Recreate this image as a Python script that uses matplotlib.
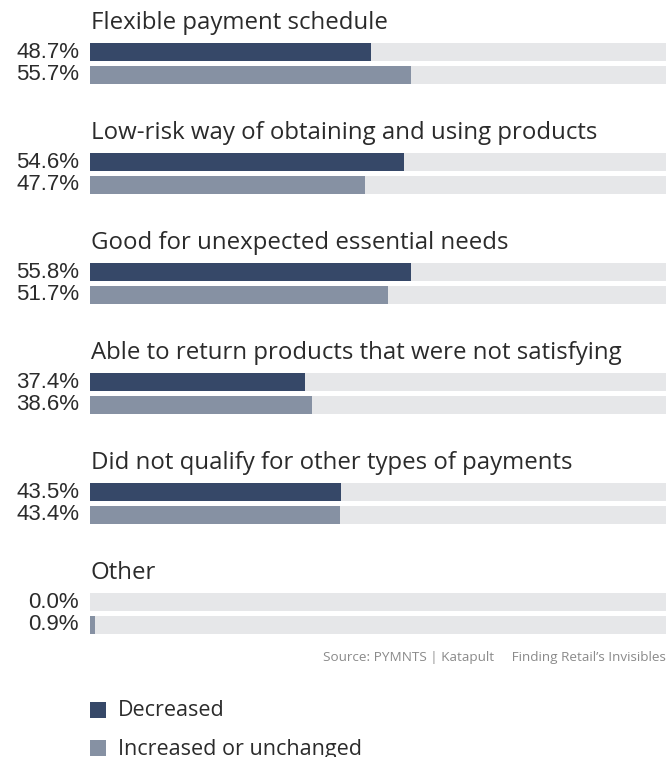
import matplotlib.pyplot as plt

# survey answers, share of respondents (%)
reasons = [
    "Flexible payment schedule",
    "Low-risk way of obtaining and using products",
    "Good for unexpected essential needs",
    "Able to return products that were not satisfying",
    "Did not qualify for other types of payments",
    "Other",
]
decreased = [48.7, 54.6, 55.8, 37.4, 43.5, 0.0]
increased = [55.7, 47.7, 51.7, 38.6, 43.4, 0.9]
series_names = ["Decreased", "Increased or unchanged"]

DARK = "#364868"
LIGHT = "#8691a3"
TRACK = "#e6e7e9"
TEXT = "#2b2b2b"
TITLE_FONT = ["Open Sans", "DejaVu Sans"]
NUM_FONT = ["Liberation Sans", "DejaVu Sans"]

W, H = 667, 757
fig = plt.figure(figsize=(W / 100, H / 100), dpi=100)

# bar area runs from x=90px to the right edge; y axis in pixels from the top
ax = fig.add_axes([90 / W, 0, 576 / W, 1])
ax.set_xlim(0, 100)
ax.set_ylim(H, 0)
ax.axis("off")

step = 110
bar_h = 18
for i, (name, d, inc) in enumerate(zip(reasons, decreased, increased)):
    y0 = 22 + i * step
    ax.text(0.1, y0 + 1, name, fontsize=17.3, family=TITLE_FONT, color=TEXT,
            va="center", ha="left")
    for yy, v, c in [(y0 + 30, d, DARK), (y0 + 53, inc, LIGHT)]:
        ax.barh(yy, 100, height=bar_h, color=TRACK, linewidth=0)
        ax.barh(yy, v, height=bar_h, color=c, linewidth=0)
        ax.text(-1.9, yy, f"{v:.1f}%", fontsize=16, family=NUM_FONT,
                color=TEXT, va="center", ha="right", clip_on=False)

ax.text(100, 658, "Source: PYMNTS | Katapult     Finding Retail\u2019s Invisibles",
        fontsize=9.7, family=TITLE_FONT, color="#8a8a8a", va="center", ha="right")

# legend
for j, (lbl, c) in enumerate(zip(series_names, [DARK, LIGHT])):
    yy = 710 + j * 38
    ax.barh(yy, 16 / 5.76, height=16, color=c, linewidth=0, clip_on=False)
    ax.text(28 / 5.76, yy + 1, lbl, fontsize=15.5, family=TITLE_FONT, color=TEXT,
            va="center", ha="left", clip_on=False)

fig.savefig("out.png", dpi=100)
